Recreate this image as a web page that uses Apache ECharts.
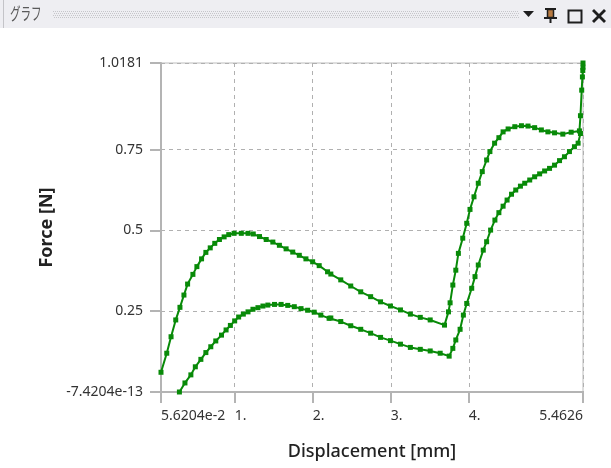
<!DOCTYPE html>
<html>
<head>
<meta charset="utf-8">
<script src="https://cdn.jsdelivr.net/npm/echarts@6/dist/echarts.min.js"></script>
<style>html,body{margin:0;padding:0;background:#fff}#c{width:611px;height:468px}</style>
</head>
<body>
<div id="c"></div>
<script>
// ---- data ----
var xTicks = [0.056204, 1, 2, 3, 4, 5.4626];
var xTickLabels = ['5.6204e-2', '1.', '2.', '3.', '4.', '5.4626'];
var yTicks = [0, 0.25, 0.5, 0.75, 1.0181];
var yTickLabels = ['-7.4204e-13', '0.25', '0.5', '0.75', '1.0181'];

var upperX = [0.056204,0.130,0.185,0.245,0.299,0.350,0.397,0.465,0.516,0.576,0.631,0.687,0.745,0.805,0.865,0.924,0.993,1.085,1.171,1.238,1.318,1.404,1.489,1.573,1.659,1.744,1.828,1.913,1.999,2.083,2.190,2.232,2.359,2.487,2.615,2.742,2.869,2.996,3.124,3.251,3.378,3.505,3.688,3.739,3.760,3.795,3.833,3.866,3.922,3.973,4.015,4.066,4.121,4.172,4.228,4.270,4.330,4.385,4.439,4.503,4.589,4.674,4.758,4.843,4.929,5.013,5.098,5.204,5.311,5.417,5.430,5.446,5.455,5.460,5.4626,5.4626];
var upperY = [0.061,0.120,0.171,0.223,0.262,0.300,0.334,0.364,0.388,0.412,0.432,0.446,0.460,0.472,0.480,0.487,0.491,0.491,0.491,0.489,0.481,0.472,0.464,0.454,0.443,0.433,0.423,0.412,0.403,0.391,0.372,0.365,0.347,0.328,0.310,0.295,0.279,0.266,0.254,0.241,0.231,0.223,0.207,0.248,0.276,0.331,0.377,0.429,0.476,0.522,0.565,0.604,0.646,0.682,0.718,0.744,0.770,0.787,0.805,0.814,0.821,0.824,0.823,0.818,0.811,0.805,0.802,0.798,0.804,0.808,0.855,0.934,0.975,0.995,1.005,1.0181];

var lowerX = [0.292,0.363,0.439,0.496,0.567,0.631,0.694,0.758,0.831,0.890,0.945,1.000,1.051,1.111,1.171,1.234,1.298,1.362,1.425,1.510,1.595,1.680,1.764,1.850,1.935,2.019,2.104,2.210,2.232,2.359,2.487,2.615,2.742,2.869,2.996,3.124,3.251,3.378,3.505,3.633,3.748,3.795,3.833,3.888,3.930,3.973,4.037,4.079,4.121,4.185,4.228,4.279,4.334,4.385,4.439,4.490,4.547,4.601,4.661,4.716,4.780,4.843,4.907,4.971,5.034,5.098,5.162,5.225,5.289,5.353,5.400,5.430];
var lowerY = [0.000,0.028,0.053,0.078,0.101,0.122,0.140,0.158,0.176,0.192,0.206,0.220,0.232,0.241,0.248,0.256,0.261,0.266,0.269,0.271,0.271,0.268,0.264,0.258,0.253,0.247,0.238,0.228,0.229,0.218,0.205,0.194,0.182,0.169,0.159,0.148,0.138,0.132,0.127,0.120,0.111,0.135,0.161,0.194,0.238,0.274,0.321,0.357,0.393,0.439,0.465,0.501,0.532,0.555,0.575,0.594,0.612,0.625,0.637,0.646,0.656,0.666,0.675,0.684,0.692,0.702,0.716,0.728,0.744,0.759,0.770,0.800];

function pairs(xs, ys){ return xs.map(function(x,i){ return [x, ys[i]]; }); }
function lab(ticks, labels){
  return function(v){
    for (var i=0;i<ticks.length;i++){ if (Math.abs(ticks[i]-v) < 1e-6) return labels[i]; }
    return '';
  };
}

var GREEN = '#088a08';
var dark = '#1e1e1e';
var font = 'Noto Sans';

var chart = echarts.init(document.getElementById('c'), null, {renderer:'canvas'});

var graphics = [
  {type:'rect', shape:{x:0,y:0,width:611,height:28}, style:{fill:'#eeeef2'}, z:100},
  {type:'line', shape:{x1:3.5,y1:0,x2:3.5,y2:28}, style:{stroke:'#c4c4c8',lineWidth:1}, z:101},
  {type:'text', x:10, y:14, scaleX:0.62, style:{text:'グラフ', font:'17px "Noto Sans CJK JP"', fill:'#5a5a5a', verticalAlign:'middle'}, z:101},
  {type:'line', shape:{x1:53,y1:11.5,x2:519,y2:11.5}, style:{stroke:'#c6c6ca',lineWidth:1,lineDash:[1,1]}, z:101},
  {type:'line', shape:{x1:54,y1:13.5,x2:519,y2:13.5}, style:{stroke:'#c6c6ca',lineWidth:1,lineDash:[1,1]}, z:101},
  {type:'line', shape:{x1:53,y1:15.5,x2:519,y2:15.5}, style:{stroke:'#c6c6ca',lineWidth:1,lineDash:[1,1]}, z:101},
  {type:'line', shape:{x1:54,y1:17.5,x2:519,y2:17.5}, style:{stroke:'#c6c6ca',lineWidth:1,lineDash:[1,1]}, z:101},
  {type:'polygon', shape:{points:[[523,11],[534,11],[528.5,17]]}, style:{fill:dark}, z:101},
  {type:'rect', shape:{x:545,y:8,width:11,height:2}, style:{fill:dark}, z:101},
  {type:'rect', shape:{x:547.5,y:9.5,width:6,height:8}, style:{fill:'#b87a40',stroke:dark,lineWidth:1.5}, z:101},
  {type:'rect', shape:{x:544,y:17,width:13,height:2}, style:{fill:dark}, z:101},
  {type:'rect', shape:{x:549.5,y:19,width:2,height:4}, style:{fill:dark}, z:101},
  {type:'rect', shape:{x:568.5,y:10.5,width:13,height:12}, style:{fill:'none',stroke:dark,lineWidth:2}, z:101},
  {type:'line', shape:{x1:593,y1:10,x2:605,y2:22}, style:{stroke:dark,lineWidth:2.8}, z:101},
  {type:'line', shape:{x1:605,y1:10,x2:593,y2:22}, style:{stroke:dark,lineWidth:2.8}, z:101}
];

var axisLineStyle = {color:'#b4b4b4', width:2};

chart.setOption({
  backgroundColor:'#ffffff',
  animation:false,
  graphic: graphics,
  grid:{left:161, right:28, top:63, bottom:76, show:true, borderColor:'#bcbcbc', borderWidth:1, backgroundColor:'transparent'},
  xAxis:{
    type:'value', min:xTicks[0], max:xTicks[xTicks.length-1],
    axisLine:{show:true, onZero:false, lineStyle:axisLineStyle},
    axisTick:{show:true, length:11, customValues:xTicks, lineStyle:axisLineStyle},
    axisLabel:{customValues:xTicks, formatter:lab(xTicks,xTickLabels), color:'#333', fontSize:14, fontFamily:font, align:'left', alignMaxLabel:'right', margin:17},
    splitLine:{show:true, lineStyle:{color:'#b0b0b0', type:[4,4], width:1}},
    name:'Displacement [mm]', nameLocation:'middle', nameGap:51,
    nameTextStyle:{fontSize:18, color:'#222', fontFamily:font, fontWeight:500}
  },
  yAxis:{
    type:'value', min:yTicks[0], max:yTicks[yTicks.length-1],
    axisLine:{show:true, onZero:false, lineStyle:axisLineStyle},
    axisTick:{show:true, length:11, customValues:yTicks, lineStyle:axisLineStyle},
    axisLabel:{customValues:yTicks, formatter:lab(yTicks,yTickLabels), color:'#333', fontSize:14, fontFamily:font, margin:18},
    splitLine:{show:true, lineStyle:{color:'#b0b0b0', type:[4,4], width:1}},
    name:'Force [N]', nameLocation:'middle', nameGap:105, nameRotate:90,
    nameTextStyle:{fontSize:18, color:'#222', fontFamily:font, fontWeight:'bold'}
  },
  series:[
    {type:'line', data:pairs(upperX,upperY), symbol:'rect', symbolSize:5, showAllSymbol:true, clip:true,
     itemStyle:{color:GREEN}, lineStyle:{color:GREEN, width:2}},
    {type:'line', data:pairs(lowerX,lowerY), symbol:'rect', symbolSize:5, showAllSymbol:true, clip:true,
     itemStyle:{color:GREEN}, lineStyle:{color:GREEN, width:2}}
  ]
});
</script>
</body>
</html>
